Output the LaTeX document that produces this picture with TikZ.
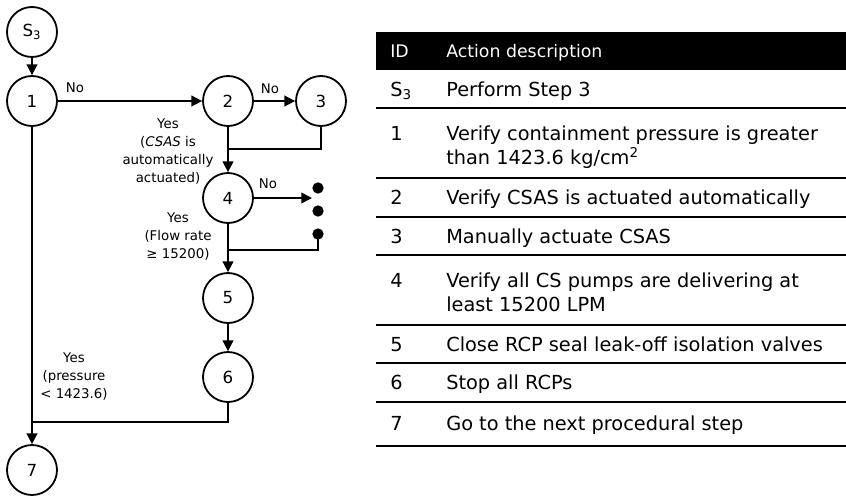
\documentclass[tikz,border=0pt]{standalone}
\usepackage{fontspec}
\setmainfont{DejaVu Sans}
\usetikzlibrary{arrows.meta}
\tikzset{
  stepnode/.style={circle, draw, line width=1.35pt, minimum size=37.5pt, inner sep=0pt, font=\fontsize{12.5}{14}\selectfont},
  flow/.style={line width=1.35pt},
  arr/.style={flow, -{Triangle[length=8pt,width=8pt]}},
  lbl/.style={font=\fontsize{10}{13.5}\selectfont, align=center, inner sep=0pt},
  dotnode/.style={circle, fill=black, minimum size=8.5pt, inner sep=0pt},
  tabline/.style={line width=1.8pt},
  cell/.style={anchor=base west, inner sep=0pt, font=\fontsize{14.5}{18}\selectfont},
  hcell/.style={anchor=base west, inner sep=0pt, text=white, font=\fontsize{13}{16}\selectfont},
}
\begin{document}
\begin{tikzpicture}[x=0.75pt,y=-0.75pt]
\useasboundingbox (0,0) rectangle (846,496);
% flowchart nodes
\node[stepnode] (s3) at (32,32) {S\textsubscript{3}};
\node[stepnode] (n1) at (32,101) {1};
\node[stepnode] (n2) at (228,101) {2};
\node[stepnode] (n3) at (321,101) {3};
\node[stepnode] (n4) at (228,198) {4};
\node[stepnode] (n5) at (228,298) {5};
\node[stepnode] (n6) at (228,377) {6};
\node[stepnode] (n7) at (32,470) {7};
\node[dotnode] (d1) at (318,188) {};
\node[dotnode] (d2) at (318,211) {};
\node[dotnode] (d3) at (318,234) {};
\coordinate (j1) at (228,149);
\coordinate (j2) at (228,250);
\coordinate (j3) at (32,422);
\coordinate (t4) at (312,198);
% connectors
\draw[arr] (s3) -- (n1);
\draw[arr] (n1) -- (n2);
\draw[arr] (n2) -- (n3);
\draw[arr] (n2) -- (n4);
\draw[flow] (n3.south) |- (j1);
\draw[arr] (n4) -- (t4);
\draw[flow] (d3.center) |- (j2);
\draw[arr] (n4) -- (n5);
\draw[arr] (n5) -- (n6);
\draw[flow] (n6.south) |- (j3);
\draw[arr] (n1) -- (n7);
% labels
\node[lbl] (l1) at (75,88) {No};
\node[lbl] (l2) at (270,89) {No};
\node[lbl] (l4) at (268,184) {No};
\node[lbl] (y2) at (168,152) {Yes\\(\textit{CSAS} is\\automatically\\actuated)};
\node[lbl] (y4) at (178,237) {Yes\\(Flow rate\\≥ 15200)};
\node[lbl] (y1) at (74,377) {Yes\\(pressure\\< 1423.6)};
% table
\fill[black] (376,32) rectangle (846,70);
\node[hcell] (h1) at (390,57) {ID};
\node[hcell] (h2) at (446,57) {Action description};
\foreach \yy in {108,178,217,255,325,363,402,446}
  \draw[tabline] (376,\yy) -- (846,\yy);
\node[cell] (i0) at (390,96) {S\textsubscript{3}};
\node[cell] (t0) at (446,96) {Perform Step 3};
\node[cell] (i1) at (390,140) {1};
\node[cell] (t1a) at (446,140) {Verify containment pressure is greater};
\node[cell] (t1b) at (446,164) {than 1423.6 kg/cm\textsuperscript{2}};
\node[cell] (i2) at (390,204.5) {2};
\node[cell] (t2) at (446,204.5) {Verify CSAS is actuated automatically};
\node[cell] (i3) at (390,243) {3};
\node[cell] (t3) at (446,243) {Manually actuate CSAS};
\node[cell] (i4) at (390,287) {4};
\node[cell] (t4a) at (446,287) {Verify all CS pumps are delivering at};
\node[cell] (t4b) at (446,311) {least 15200 LPM};
\node[cell] (i5) at (390,351) {5};
\node[cell] (t5) at (446,351) {Close RCP seal leak-off isolation valves};
\node[cell] (i6) at (390,389.5) {6};
\node[cell] (t6) at (446,389.5) {Stop all RCPs};
\node[cell] (i7) at (390,430) {7};
\node[cell] (t7) at (446,430) {Go to the next procedural step};
\end{tikzpicture}
\end{document}
